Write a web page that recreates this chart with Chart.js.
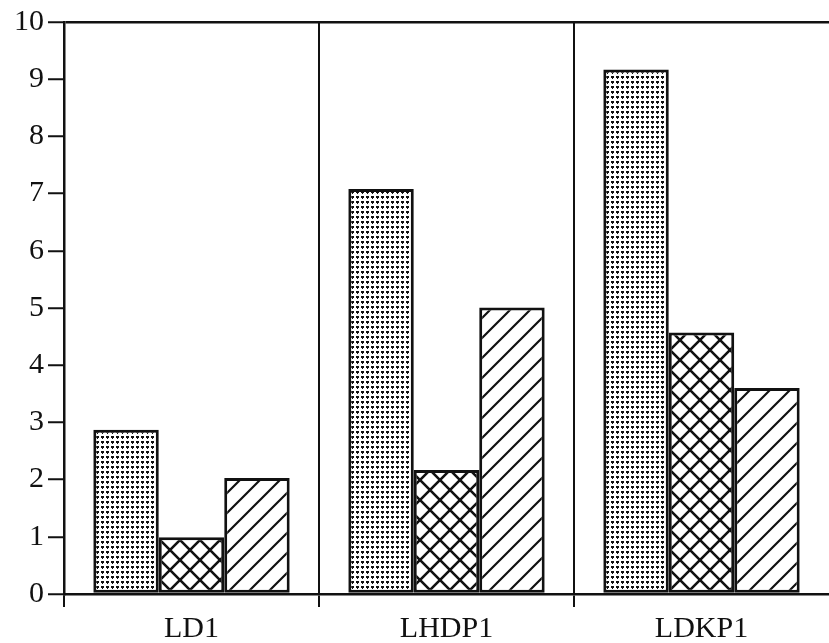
<!DOCTYPE html>
<html>
<head>
<meta charset="utf-8">
<script src="https://cdn.jsdelivr.net/npm/chart.js@4.4.1/dist/chart.umd.min.js"></script>
<style>
  html, body { margin: 0; padding: 0; background: #fff; }
  #wrap { width: 829px; height: 643px; }
</style>
</head>
<body>
<div id="wrap"><canvas id="chart" width="829" height="643"></canvas></div>
<script>
// Categories and the three series (one per fill pattern)
const categories = ['LD1', 'LHDP1', 'LDKP1'];
const stippledValues = [2.87, 7.08, 9.17];
const crossValues = [0.99, 2.17, 4.57];
const diagonalValues = [2.03, 5.01, 3.6];
const yTicks = [0, 1, 2, 3, 4, 5, 6, 7, 8, 9, 10];

const INK = '#111';

function makeTile(size, draw) {
  const c = document.createElement('canvas');
  c.width = size; c.height = size;
  const g = c.getContext('2d');
  g.fillStyle = '#fff';
  g.fillRect(0, 0, size, size);
  draw(g, size);
  return g.createPattern(c, 'repeat');
}

// dense dot screen
const stipple = makeTile(5, (g) => {
  g.fillStyle = INK;
  g.fillRect(1, 1, 3, 2);
  g.fillRect(2, 3, 1, 1);
});

// diamond cross-hatching
const crossHatch = makeTile(20, (g, s) => {
  g.strokeStyle = INK;
  g.lineWidth = 2.6;
  g.beginPath();
  for (const k of [-s, 0, s]) {
    g.moveTo(k - 2, -2); g.lineTo(k + s + 2, s + 2);
    g.moveTo(k - 2, s + 2); g.lineTo(k + s + 2, -2);
  }
  g.stroke();
});

// single forward-slash hatching
const slashHatch = makeTile(20, (g, s) => {
  g.strokeStyle = INK;
  g.lineWidth = 2.2;
  g.beginPath();
  for (const k of [-s, 0, s]) {
    g.moveTo(k - 2, s + 2); g.lineTo(k + s + 2, -2);
  }
  g.stroke();
});

const serif = '"Liberation Serif", Tinos, "Times New Roman", Times, "Nimbus Roman", serif';

new Chart(document.getElementById('chart'), {
  type: 'bar',
  data: {
    labels: categories,
    datasets: [
      { label: 'A', data: stippledValues, backgroundColor: stipple },
      { label: 'B', data: crossValues, backgroundColor: crossHatch },
      { label: 'C', data: diagonalValues, backgroundColor: slashHatch }
    ].map(d => Object.assign(d, {
      borderColor: INK,
      borderWidth: 3,
      borderSkipped: false,
      barPercentage: 1,
      categoryPercentage: 0.77
    }))
  },
  options: {
    responsive: false,
    animation: false,
    devicePixelRatio: 1,
    layout: { padding: { top: 21, right: 0, left: 0, bottom: 0 } },
    plugins: { legend: { display: false }, tooltip: { enabled: false } },
    scales: {
      x: {
        offset: true,
        grid: {
          offset: true,
          drawOnChartArea: true,
          color: (ctx) => (ctx.tick ? INK : 'rgba(0,0,0,0)'),
          tickColor: (ctx) => (ctx.tick ? INK : 'rgba(0,0,0,0)'),
          lineWidth: 2,
          tickLength: 13,
          tickWidth: 2
        },
        border: { display: true, color: INK, width: 2.5 },
        ticks: {
          color: INK,
          font: { family: serif, size: 30 },
          padding: 4,
          maxRotation: 0
        },
        afterFit: (scale) => { scale.height = 49; }
      },
      y: {
        min: 0,
        max: 10,
        afterBuildTicks: (scale) => { scale.ticks = yTicks.map(v => ({ value: v })); },
        grid: {
          drawOnChartArea: true,
          color: (ctx) => (ctx.tick && ctx.tick.value === 10 ? INK : 'rgba(0,0,0,0)'),
          lineWidth: 2.5,
          tickColor: INK,
          tickLength: 16,
          tickWidth: 2
        },
        border: { display: true, color: INK, width: 2.5 },
        ticks: {
          color: INK,
          font: { family: serif, size: 30 },
          padding: 4
        },
        afterFit: (scale) => { scale.width = 64; }
      }
    }
  }
});
</script>
</body>
</html>
